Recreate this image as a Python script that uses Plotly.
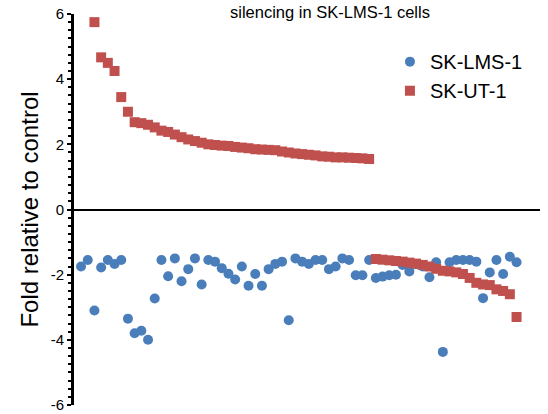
import plotly.graph_objects as go

# sample index positions
blue_x = list(range(0, 66))
blue_y = [-1.75, -1.55, -3.1, -1.78, -1.55, -1.67, -1.55, -3.35, -3.8, -3.72,
          -4.0, -2.73, -1.55, -2.05, -1.5, -2.2, -1.83, -1.5, -2.3, -1.55,
          -1.6, -1.8, -1.97, -2.15, -1.75, -2.34, -1.98, -2.34, -1.83, -1.67,
          -1.6, -3.4, -1.5, -1.6, -1.67, -1.55, -1.55, -1.83, -1.75, -1.5,
          -1.55, -2.02, -2.02, -1.55, -2.1, -2.06, -2.02, -2.0, -1.7, -1.9,
          -1.68, -1.75, -2.08, -1.62, -4.37, -1.62, -1.55, -1.55, -1.55, -1.6,
          -2.72, -1.93, -1.55, -1.98, -1.45, -1.62]

red_x = list(range(2, 66))
red_y = [5.75, 4.67, 4.5, 4.25, 3.45, 3.0, 2.68, 2.65, 2.6, 2.52,
         2.42, 2.38, 2.3, 2.22, 2.15, 2.1, 2.05, 2.0, 1.98, 1.96,
         1.95, 1.92, 1.9, 1.88, 1.85, 1.84, 1.83, 1.82, 1.78, 1.75,
         1.72, 1.7, 1.68, 1.66, 1.63, 1.62, 1.6, 1.6, 1.59, 1.58,
         1.57, 1.55,
         -1.52, -1.54, -1.56, -1.58, -1.6, -1.63, -1.66, -1.7, -1.75, -1.82,
         -1.88, -1.9, -1.93, -1.98, -2.1, -2.25, -2.3, -2.32, -2.45, -2.5,
         -2.6, -3.3]

y_ticks = [-6, -4, -2, 0, 2, 4, 6]

FONT = "Liberation Sans, Arial, sans-serif"
BLUE = "#4A7EBB"
RED = "#C0504D"

fig = go.Figure()
fig.add_trace(go.Scatter(x=blue_x, y=blue_y, mode="markers", name="SK-LMS-1",
                         marker=dict(symbol="circle", size=10, color=BLUE)))
fig.add_trace(go.Scatter(x=red_x, y=red_y, mode="markers", name="SK-UT-1",
                         marker=dict(symbol="square", size=10, color=RED)))

fig.update_layout(
    width=548, height=414,
    margin=dict(l=74, r=8, t=14, b=9),
    paper_bgcolor="white", plot_bgcolor="white",
    font=dict(family=FONT, color="black"),
    showlegend=True,
    legend=dict(x=0.678, y=0.928, xanchor="left", yanchor="top",
                font=dict(size=20, family=FONT), itemwidth=30,
                bgcolor="rgba(0,0,0,0)", tracegroupgap=0),
    xaxis=dict(range=[-1.05, 68.5], visible=False, showgrid=False, zeroline=False),
    yaxis=dict(range=[-6, 6], tickvals=y_ticks, ticktext=[str(v) for v in y_ticks],
               showgrid=False, zeroline=True, zerolinecolor="black", zerolinewidth=2,
               showline=True, linecolor="black", linewidth=3,
               ticks="outside", ticklen=4, tickwidth=2, tickcolor="black",
               tickfont=dict(size=15, family=FONT), automargin=False,
               ticklabeloverflow="allow",
               minor=dict(dtick=0.25, ticks="outside", ticklen=3, tickwidth=2,
                          tickcolor="black", showgrid=False),
               title=dict(text="Fold relative to control", font=dict(size=24, family=FONT),
                          standoff=6)),
    annotations=[dict(text="silencing in SK-LMS-1 cells", xref="paper", yref="paper",
                      x=0.549, y=1.005, xanchor="center", yanchor="middle",
                      showarrow=False, font=dict(size=16.5, family=FONT))],
)

fig.write_html("out.html", config={"displayModeBar": False},
               post_script="document.body.style.margin='0';document.body.style.padding='0';")
